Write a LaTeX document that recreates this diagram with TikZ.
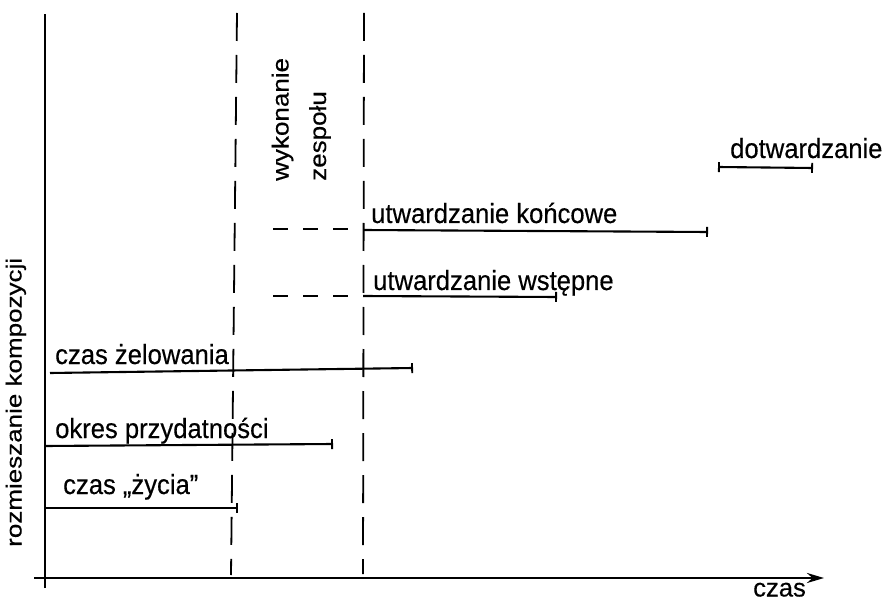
\documentclass[tikz,border=0pt]{standalone}
\usepackage{fontspec}
\setmainfont[FakeBold=0.35]{Liberation Sans}
\usetikzlibrary{arrows.meta}
\newcommand\vsquash[2][0.84]{\scalebox{1}[#1]{#2}}
\newcommand\tall[1]{\scalebox{1}[1.08]{#1}}
\begin{document}
\begin{tikzpicture}[x=1pt,y=-1pt,
  lbl/.style={inner sep=0pt, anchor=base west, font=\fontsize{25.6}{30}\selectfont},
  vlbl/.style={inner sep=0pt, anchor=base west, rotate=90, font=\fontsize{26}{30}\selectfont},
  span/.style={line width=2.1pt, -{Bar[width=10pt,line width=1.8pt]}},
  guide/.style={line width=1.8pt, dash pattern=on 28pt off 14pt},
  stub/.style={line width=1.8pt, dash pattern=on 15pt off 15pt},
  axis/.style={line width=2.6pt}]
\useasboundingbox (0,0) rectangle (885,601);

% axes
\coordinate (yb) at (45,588);
\coordinate (yt) at (45,14);
\coordinate (xl) at (34,578);
\coordinate (xr) at (824,578);
\draw[axis] (yb) -- (yt);
\draw[axis,-{Stealth[length=17pt,width=10pt]}] (xl) -- (xr);
\node[lbl] (tlab) at (753,596.5) {czas};
\node[vlbl] (ylab) at (21.5,547) {\vsquash{rozmieszanie kompozycji}};

% vertical guide lines
\coordinate (g1t) at (237,13);
\coordinate (g1b) at (231,575);
\coordinate (g2t) at (364,13);
\coordinate (g2b) at (363,574);
\draw[guide] (g1t) -- (g1b);
\draw[guide] (g2t) -- (g2b);
\node[vlbl] (wyk) at (288.5,181) {\vsquash[0.9]{wykonanie}};
\node[vlbl] (zes) at (326,181) {\vsquash[0.9]{zespołu}};

% dotwardzanie
\coordinate (d1) at (718,167);
\coordinate (d2) at (813,168);
\draw[line width=2.1pt,{Bar[width=10pt,line width=1.8pt]}-{Bar[width=10pt,line width=1.8pt]}] (d1) -- (d2);
\node[lbl] (dlab) at (730,158) {\tall{dotwardzanie}};

% utwardzanie koncowe
\coordinate (k0) at (273,229);
\coordinate (k0e) at (348,229);
\coordinate (k1) at (363,230);
\coordinate (k2) at (708,232);
\draw[stub] (k0) -- (k0e);
\draw[span] (k1) -- (k2);
\node[lbl] (klab) at (371,223) {\tall{utwardzanie końcowe}};

% utwardzanie wstepne
\coordinate (w0) at (273,296);
\coordinate (w0e) at (348,296);
\coordinate (w1) at (363,296);
\coordinate (w2) at (557,297);
\draw[stub] (w0) -- (w0e);
\draw[span] (w1) -- (w2);
\node[lbl] (wlab) at (373,290) {\tall{utwardzanie wstępne}};

% czas zelowania
\coordinate (z1) at (50,373);
\coordinate (z2) at (413,368);
\draw[span] (z1) -- (z2);
\node[lbl] (zlab) at (55,364) {\tall{czas żelowania}};

% okres przydatnosci
\coordinate (o1) at (45,446);
\coordinate (o2) at (333,444);
\draw[span] (o1) -- (o2);
\node[lbl] (olab) at (55,438) {\tall{okres przydatności}};

% czas zycia
\coordinate (c1) at (45,508);
\coordinate (c2) at (238,508);
\draw[span] (c1) -- (c2);
\node[lbl] (clab) at (63,494) {\tall{czas „życia”}};
\end{tikzpicture}
\end{document}
